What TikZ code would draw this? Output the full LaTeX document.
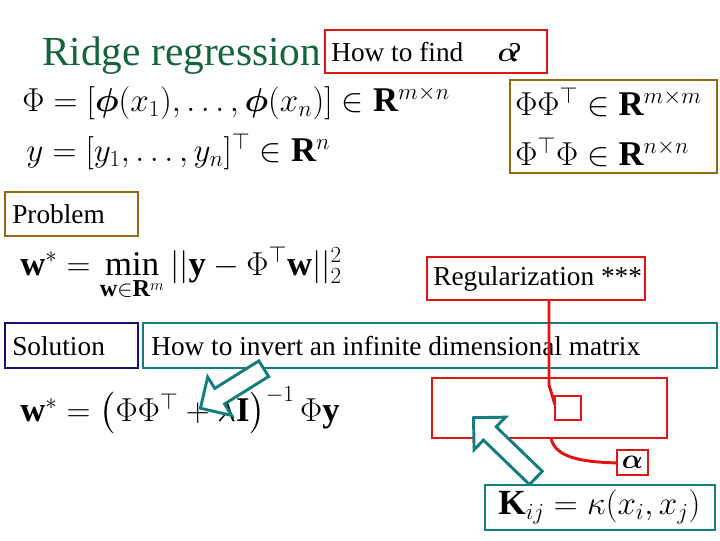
\documentclass[tikz,border=0pt]{standalone}
\usepackage{amsmath,amssymb,bm}
\usepackage{fontspec}
\setmainfont{Liberation Serif}
\usetikzlibrary{shapes.arrows}
\definecolor{tgreen}{RGB}{20,100,60}
\definecolor{rbox}{RGB}{225,20,20}
\definecolor{bbox}{RGB}{150,105,20}
\definecolor{nbox}{RGB}{20,20,120}
\definecolor{tbox}{RGB}{20,125,125}
\begin{document}
\begin{tikzpicture}[x=0.75pt,y=-0.75pt,
  bx/.style={draw, line width=2.2pt},
  txt/.style={font=\fontsize{20.5}{22}\selectfont, anchor=west, inner sep=0pt},
  eq/.style={font=\fontsize{26}{28}\selectfont, anchor=west, inner sep=0pt},
  barrow/.style={single arrow, draw=tbox, line width=2.2pt, fill=white, minimum width=34pt, single arrow head extend=6pt, single arrow head indent=0pt, inner sep=3pt}]
\useasboundingbox (0,0) rectangle (720,540);
\node[anchor=base west, inner sep=0pt, text=tgreen, font=\fontsize{31}{33}\selectfont] (title) at (42,65) {Ridge regression};
\draw[bx,rbox,fill=white] (325,30) rectangle (547,73);
\node[txt] (find) at (331,52) {How to find \quad$\boldsymbol{\alpha}$\kern-7pt?};
\node[eq] (phi) at (22,103) {$\Phi=[\boldsymbol{\phi}(x_1),\ldots,\boldsymbol{\phi}(x_n)]\in\mathbf{R}^{m\times n}$};
\node[eq] (yv) at (26,152) {$y=[y_1,\ldots,y_n]^\top\in\mathbf{R}^{n}$};
\draw[bx,bbox] (510,80) rectangle (717,173);
\node[eq] (pp1) at (515,102) {$\Phi\Phi^\top\in\mathbf{R}^{m\times m}$};
\node[eq] (pp2) at (515,152) {$\Phi^\top\Phi\in\mathbf{R}^{n\times n}$};
\draw[bx,bbox] (5,192) rectangle (138,236);
\node[txt] (prob) at (12,214) {Problem};
\node[eq] (weq) at (20,274) {$\mathbf{w}^*=\min\limits_{\mathbf{w}\in\mathbf{R}^m}||\mathbf{y}-\Phi^\top\mathbf{w}||_2^2$};
\draw[bx,rbox] (427,257) rectangle (645,300);
\node[txt] (reg) at (433,279) {Regularization ***};
\draw[bx,nbox] (5,323) rectangle (138,368);
\node[txt] (sol) at (12,346) {Solution};
\draw[bx,tbox] (143,323) rectangle (717,368);
\node[txt] (inv) at (151,346) {How to invert an infinite dimensional matrix};
\node[eq] (wsol) at (20,410) {$\mathbf{w}^*=\left(\Phi\Phi^\top+\lambda\mathbf{I}\right)^{-1}\Phi\mathbf{y}$};
\node[barrow, minimum height=56pt, rotate=212] (a1) at (236,386) {};
\draw[bx,rbox] (432,378) rectangle (667,438);
\draw[bx,rbox] (555,396) rectangle (581,420);
\node[barrow, minimum height=65pt, rotate=136] (a2) at (508,451) {};
\draw[bx,tbox,fill=white] (485,485) rectangle (715,530);
\node[eq, font=\fontsize{26.5}{28}\selectfont] (K) at (498,507) {$\mathbf{K}_{ij}=\kappa(x_i,x_j)$};
\draw[bx,rbox] (617,450) rectangle (648,475);
\node[inner sep=0pt, font=\fontsize{22}{24}\selectfont] (al) at (632.5,462) {$\boldsymbol{\alpha}$};
\coordinate (rb) at (549,300);
\coordinate (sb) at (555,405);
\coordinate (cb) at (551,438);
\coordinate (ab) at (617,463);
\draw[rbox, line width=2.2pt] (rb) -- (549,385) -- (sb);
\draw[rbox, line width=2.2pt] (cb) .. controls (555,460) and (590,462) .. (ab);
\end{tikzpicture}
\end{document}
